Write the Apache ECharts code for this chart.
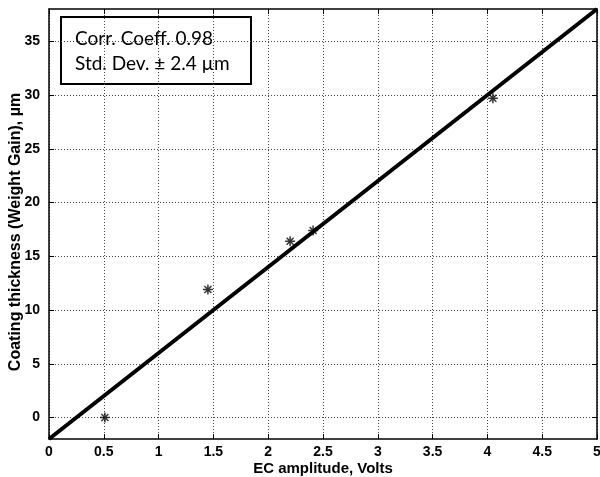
<!DOCTYPE html>
<html>
<head>
<meta charset="utf-8">
<script src="https://cdn.jsdelivr.net/npm/echarts@6/dist/echarts.min.js"></script>
<style>html,body{margin:0;padding:0;background:#fff}#c{width:600px;height:477px}</style>
</head>
<body>
<div id="c"></div>
<script>
// Measured data points (EC amplitude, Volts vs coating thickness, µm)
const pointsX = [0.51, 1.45, 2.20, 2.41, 4.05];
const pointsY = [0.0, 11.9, 16.4, 17.4, 29.7];
// Fitted line endpoints
const fitX = [0, 5];
const fitY = [-2, 38];
const xTicks = [0, 0.5, 1, 1.5, 2, 2.5, 3, 3.5, 4, 4.5, 5];
const yTicks = [0, 5, 10, 15, 20, 25, 30, 35];
const boxLines = ['Corr. Coeff. 0.98', 'Std. Dev. \u00B1 2.4 \u00B5m'];

const chart = echarts.init(document.getElementById('c'), null, {renderer: 'canvas'});
const font = '"Liberation Sans", Arial, sans-serif';
const gridLine = {show: true, lineStyle: {color: '#444', width: 1, type: [1, 2]}};
const axisLine = {show: true, onZero: false, lineStyle: {color: '#000', width: 1.5}};
const tick = {show: true, inside: true, length: 5, lineStyle: {color: '#000', width: 1}};
const yTick = Object.assign({}, tick, {customValues: yTicks});

const asterisk = 'path://M0,-5L0,5M-5,0L5,0M-3.5,-3.5L3.5,3.5M-3.5,3.5L3.5,-3.5';

chart.setOption({
  animation: false,
  backgroundColor: '#fff',
  grid: {left: 49, right: 3, top: 9, bottom: 38, containLabel: false, outerBoundsMode: 'none'},
  xAxis: [{
    type: 'value', min: 0, max: 5, interval: 0.5,
    name: 'EC amplitude, Volts', nameLocation: 'middle', nameGap: 22, nameMoveOverlap: false,
    nameTextStyle: {fontFamily: font, fontWeight: 'bold', fontSize: 15, color: '#000'},
    axisLine: axisLine, axisTick: tick, splitLine: gridLine,
    axisLabel: {fontFamily: font, fontWeight: 'bold', fontSize: 14, color: '#000', margin: 6,
      formatter: v => xTicks.indexOf(v) >= 0 ? String(v) : ''}
  }, {
    type: 'value', min: 0, max: 5, interval: 0.5, position: 'top',
    axisLine: axisLine, axisTick: tick, splitLine: {show: false}, axisLabel: {show: false}
  }],
  yAxis: [{
    type: 'value', min: -2, max: 38,
    name: 'Coating thickness (Weight Gain), \u00B5m', nameLocation: 'middle', nameGap: 25, nameMoveOverlap: false,
    nameTextStyle: {fontFamily: font, fontWeight: 'bold', fontSize: 16, color: '#000', padding: [0, 16, 0, 0]},
    axisLine: axisLine, axisTick: yTick, splitLine: gridLine,
    axisLabel: {fontFamily: font, fontWeight: 'bold', fontSize: 14, color: '#000', margin: 9,
      customValues: yTicks}
  }, {
    type: 'value', min: -2, max: 38, position: 'right',
    axisLine: axisLine, axisTick: yTick, splitLine: {show: false}, axisLabel: {show: false}
  }],
  series: [{
    type: 'line',
    data: fitX.map((x, i) => [x, fitY[i]]),
    showSymbol: false, symbol: 'none',
    lineStyle: {color: '#000', width: 4},
    z: 3
  }, {
    type: 'scatter',
    data: pointsX.map((x, i) => [x, pointsY[i]]),
    symbol: asterisk, symbolSize: 10,
    itemStyle: {color: 'transparent', borderColor: '#000', borderWidth: 1.5},
    z: 4
  }],
  graphic: [{
    type: 'group', left: 60, top: 16,
    children: [{
      type: 'rect', shape: {x: 0, y: 0, width: 190, height: 67},
      style: {fill: 'transparent', stroke: '#000', lineWidth: 2}
    }, {
      type: 'text', x: 14, y: 22,
      style: {text: boxLines[0], font: '19px Lato, "Open Sans", sans-serif', fill: '#000', textVerticalAlign: 'middle'}
    }, {
      type: 'text', x: 14, y: 47,
      style: {text: boxLines[1], font: '19px Lato, "Open Sans", sans-serif', fill: '#000', textVerticalAlign: 'middle'}
    }]
  }]
});
</script>
</body>
</html>
